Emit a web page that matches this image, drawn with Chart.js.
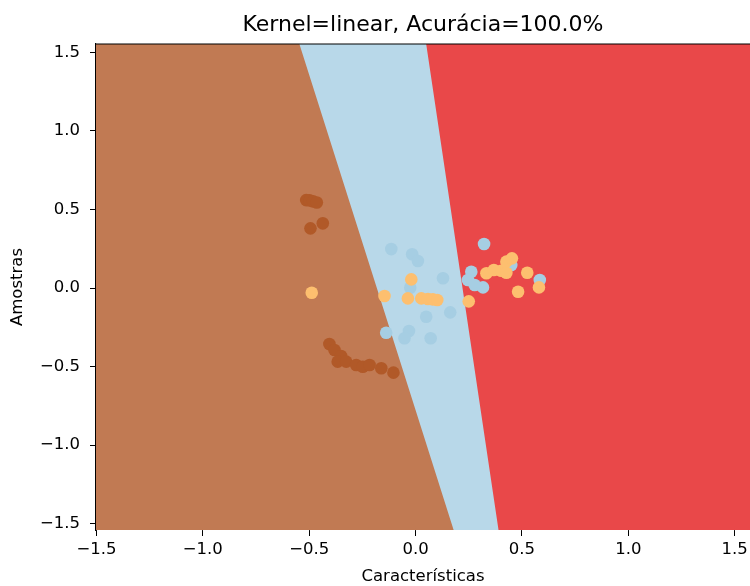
<!DOCTYPE html>
<html>
<head>
<meta charset="utf-8">
<script src="https://cdn.jsdelivr.net/npm/chart.js@4/dist/chart.umd.min.js"></script>
<style>
  html, body { margin: 0; padding: 0; background: #fff; }
  canvas { display: block; }
</style>
</head>
<body>
<canvas id="svmChart" width="750" height="586"></canvas>
<script>
// axis limits and ticks
const xLimits = [-1.502, 1.572];
const yLimits = [-1.541, 1.554];
const xTicks = [-1.5, -1.0, -0.5, 0.0, 0.5, 1.0, 1.5];
const yTicks = [-1.5, -1.0, -0.5, 0.0, 0.5, 1.0, 1.5];
const chartTitle = 'Kernel=linear, Acurácia=100.0%';

// decision boundaries: x at the top edge, x at the bottom edge
const leftBoundary = [-0.546, 0.179];
const rightBoundary = [0.05, 0.39];

// samples per class [x, y]
const brownPoints = [
  [-0.514, 0.56], [-0.498, 0.558], [-0.482, 0.552], [-0.464, 0.545],
  [-0.494, 0.38], [-0.436, 0.412],
  [-0.405, -0.357], [-0.381, -0.395], [-0.35, -0.433], [-0.366, -0.469],
  [-0.326, -0.469], [-0.279, -0.49], [-0.248, -0.501], [-0.216, -0.49],
  [-0.161, -0.511], [-0.104, -0.539]
];
const bluePoints = [
  [-0.114, 0.248], [-0.016, 0.215], [0.011, 0.172], [0.129, 0.062],
  [-0.025, 0.002], [0.05, -0.183], [0.163, -0.155], [-0.138, -0.285],
  [-0.031, -0.274], [-0.052, -0.32], [0.071, -0.32], [0.322, 0.28],
  [0.262, 0.104], [0.246, 0.051], [0.278, 0.019], [0.317, 0.004],
  [0.45, 0.146], [0.584, 0.051]
];
const orangePoints = [
  [-0.488, -0.03], [-0.146, -0.051], [-0.02, 0.055], [-0.036, -0.066],
  [0.027, -0.066], [0.058, -0.07], [0.081, -0.072], [0.102, -0.076],
  [0.25, -0.085], [0.333, 0.094], [0.368, 0.115], [0.403, 0.11],
  [0.427, 0.097], [0.427, 0.168], [0.453, 0.189], [0.525, 0.097],
  [0.482, -0.024], [0.58, 0.004]
];

const FONT = "'DejaVu Sans', sans-serif";
const toXY = arr => arr.map(p => ({ x: p[0], y: p[1] }));
const fmt = v => (v < 0 ? '\u2212' : '') + Math.abs(v).toFixed(1);

// region outlines, each filled down to the bottom of the axis
function region(edge) {
  const pts = [{ x: xLimits[0], y: yLimits[1] }];
  if (edge) {
    pts.push({ x: edge[0], y: yLimits[1] });
    pts.push({ x: edge[1], y: yLimits[0] });
    pts.push({ x: xLimits[1], y: yLimits[0] });
  } else {
    pts.push({ x: xLimits[1], y: yLimits[1] });
  }
  return pts;
}

function areaSet(edge, color, order) {
  return {
    type: 'line', data: region(edge), fill: 'start',
    backgroundColor: color, borderWidth: 0, pointRadius: 0,
    tension: 0, order: order
  };
}

function dotSet(points, color, order) {
  return {
    type: 'scatter', data: toXY(points), backgroundColor: color,
    borderWidth: 0, pointRadius: 6.3, pointHoverRadius: 6.3, order: order
  };
}

// top spine + title centred over the axes, like matplotlib
const frameAndTitle = {
  id: 'frameAndTitle',
  afterDraw(chart) {
    const { ctx, chartArea } = chart;
    ctx.save();
    ctx.strokeStyle = '#000';
    ctx.lineWidth = 1.1;
    ctx.beginPath();
    ctx.moveTo(chartArea.left, chartArea.top);
    ctx.lineTo(chartArea.right, chartArea.top);
    ctx.stroke();
    ctx.fillStyle = '#000';
    ctx.font = "22px " + FONT;
    ctx.textAlign = 'center';
    ctx.textBaseline = 'middle';
    ctx.fillText(chartTitle, (chartArea.left + chartArea.right) / 2, 25);
    ctx.restore();
  }
};

const tickStyle = { font: { family: FONT, size: 16.5 }, color: '#000' };

new Chart(document.getElementById('svmChart'), {
  type: 'scatter',
  data: {
    datasets: [
      dotSet(orangePoints, '#fdbf6f', 0),
      dotSet(bluePoints, '#a6cee3', 1),
      dotSet(brownPoints, '#b15928', 2),
      areaSet(leftBoundary, '#c17a53', 3),
      areaSet(rightBoundary, '#b8d8e9', 4),
      areaSet(null, '#e94849', 5)
    ]
  },
  options: {
    responsive: false,
    animation: false,
    devicePixelRatio: 1,
    layout: { autoPadding: false, padding: { top: 44, left: 0, right: 0, bottom: 0 } },
    plugins: {
      legend: { display: false },
      tooltip: { enabled: false },
      title: { display: false }
    },
    scales: {
      x: {
        type: 'linear', position: 'bottom',
        min: xLimits[0], max: xLimits[1], z: 1,
        afterBuildTicks: s => { s.ticks = xTicks.map(v => ({ value: v })); },
        afterFit: s => { s.height = 56; s.paddingLeft = 0; s.paddingRight = 0; },
        border: { color: '#000', width: 1.1 },
        grid: { drawOnChartArea: false, drawTicks: true, tickLength: 6, color: '#000' },
        ticks: Object.assign({ padding: 4, maxRotation: 0, callback: fmt }, tickStyle),
        title: {
          display: true, text: 'Características', color: '#000',
          font: { family: FONT, size: 16.5 }, padding: { top: 0, bottom: -1 }
        }
      },
      y: {
        type: 'linear', position: 'left',
        min: yLimits[0], max: yLimits[1], z: 1,
        afterBuildTicks: s => { s.ticks = yTicks.map(v => ({ value: v })); },
        afterFit: s => { s.width = 96; s.paddingTop = 0; s.paddingBottom = 0; },
        border: { color: '#000', width: 1.1 },
        grid: { drawOnChartArea: false, drawTicks: true, tickLength: 6, color: '#000' },
        ticks: Object.assign({ padding: 10, callback: fmt }, tickStyle),
        title: {
          display: true, text: 'Amostras', color: '#000',
          font: { family: FONT, size: 16.5 }, padding: { top: 8, bottom: 0 }
        }
      }
    }
  },
  plugins: [frameAndTitle]
});
</script>
</body>
</html>
